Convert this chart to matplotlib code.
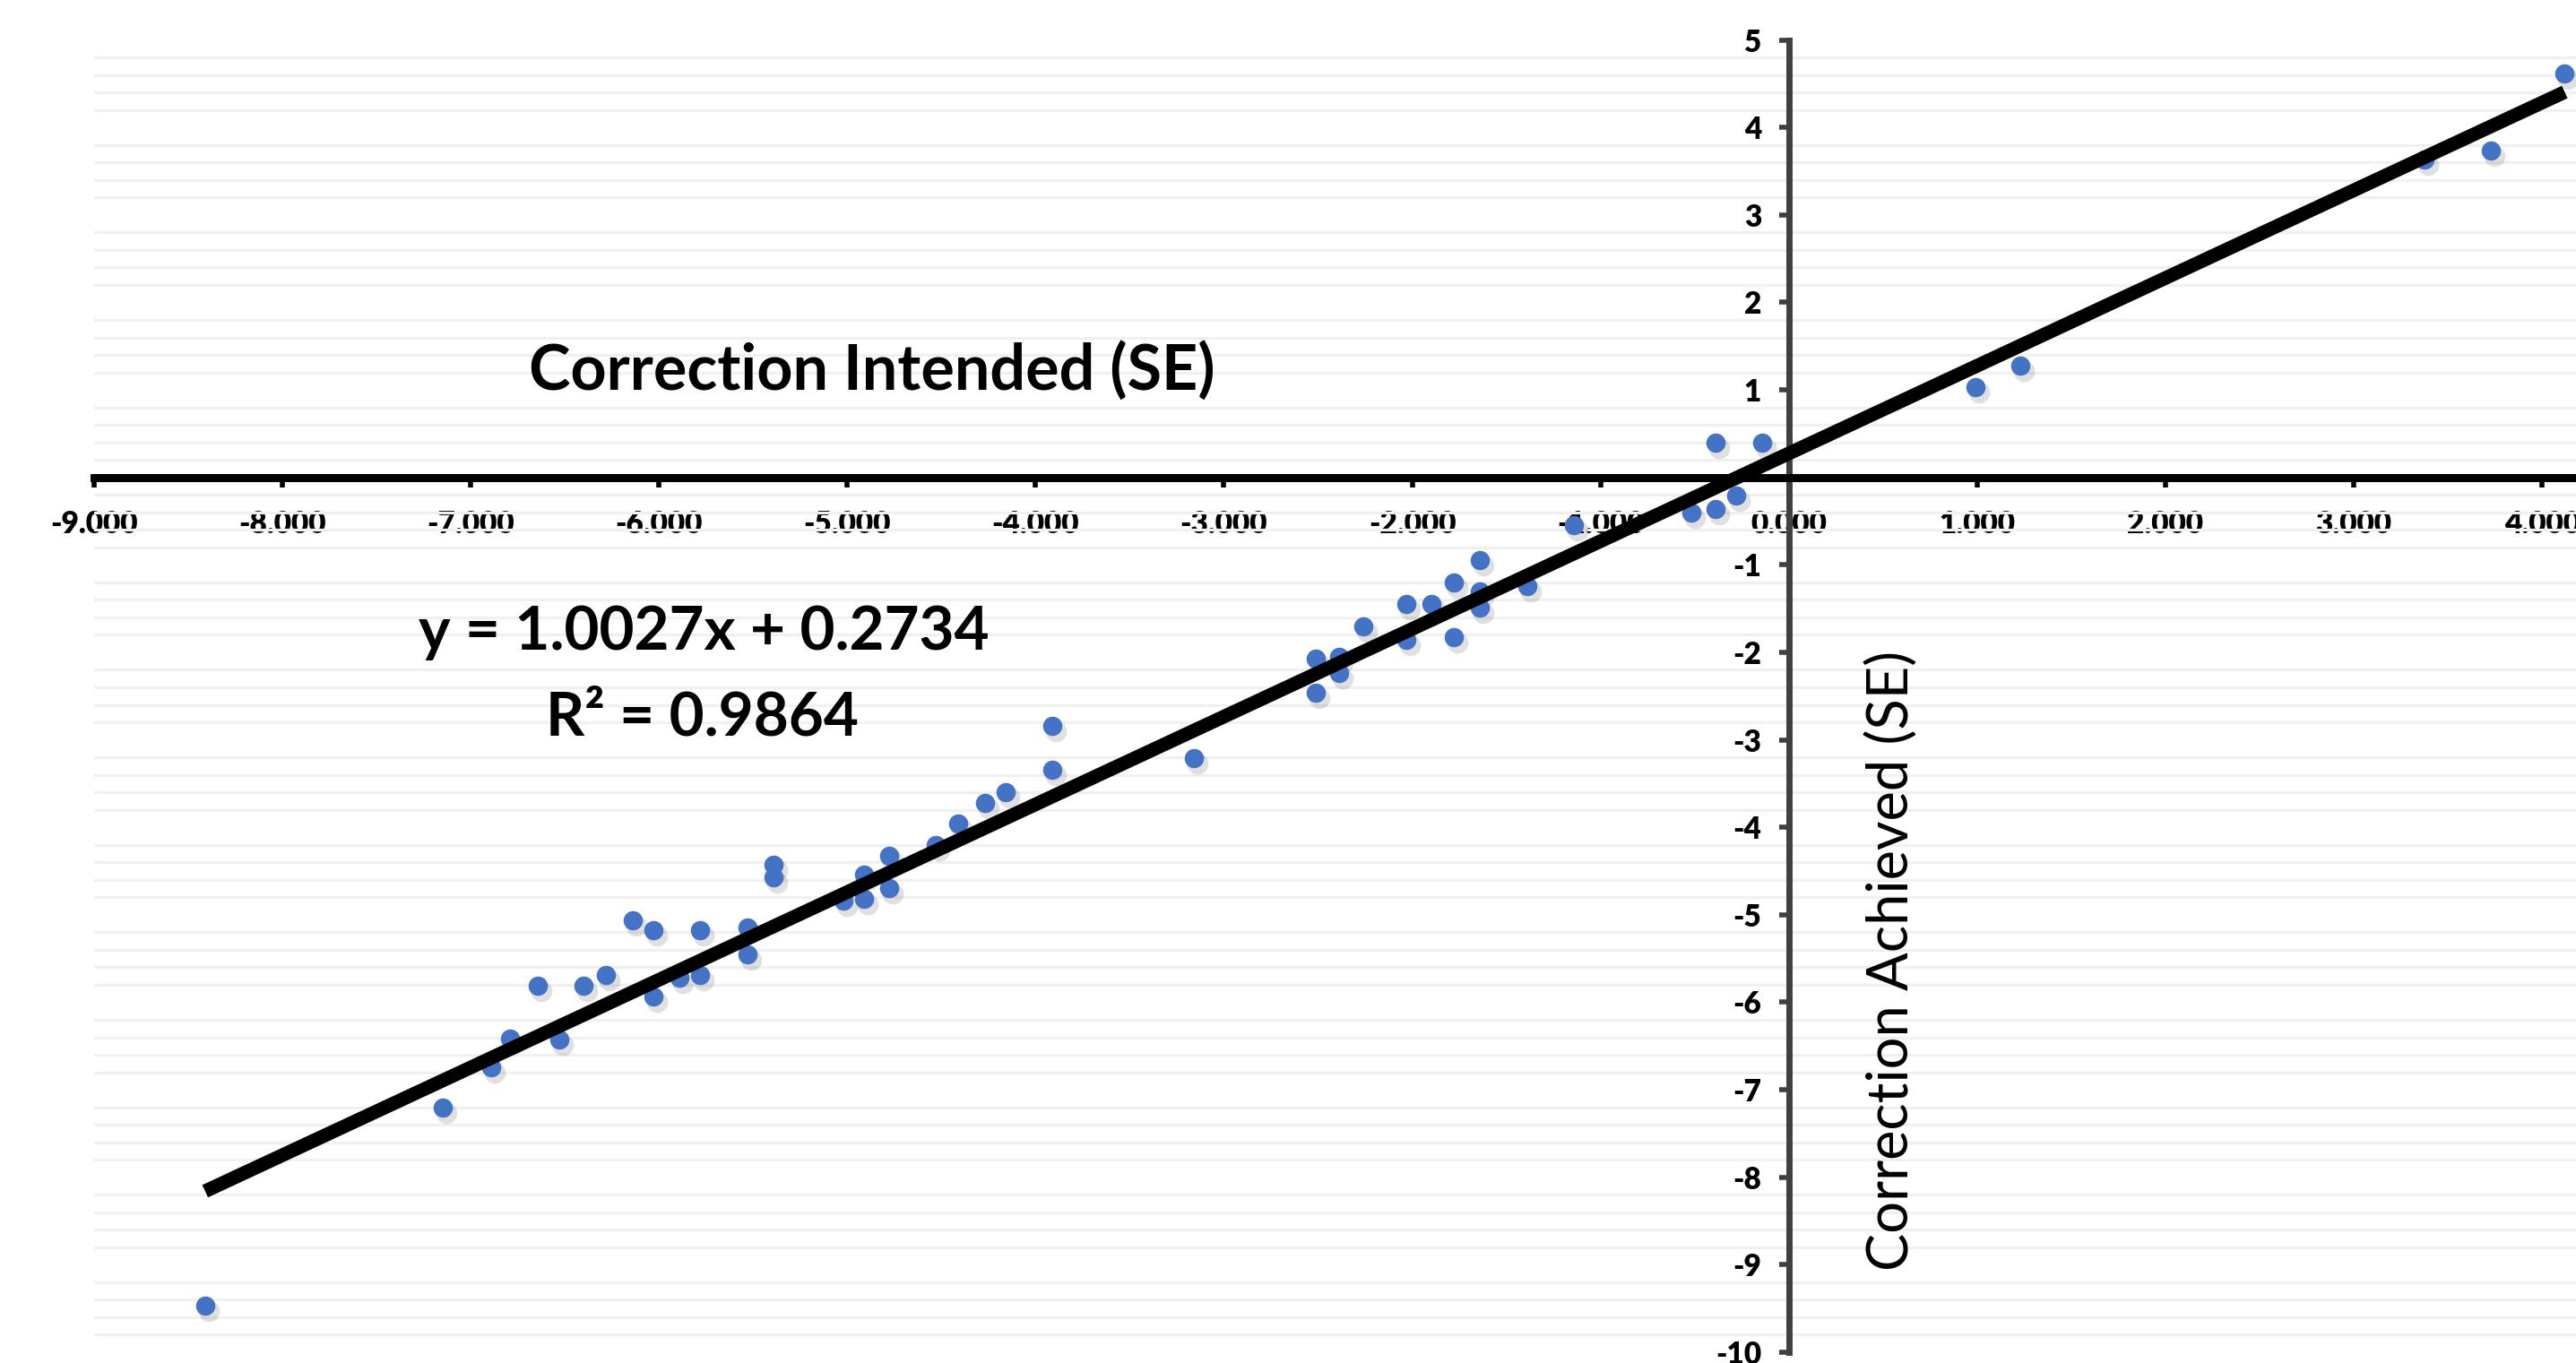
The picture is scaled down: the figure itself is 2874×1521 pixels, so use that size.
import matplotlib
matplotlib.use("Agg")
import matplotlib.pyplot as plt
import matplotlib.transforms as mtransforms
import numpy as np

# values (Correction Intended vs Achieved, SE)
intended = [-8.41, -7.15, -6.89, -6.79, -6.645, -6.53, -6.40, -6.28, -6.14, -6.03,
            -6.03, -5.89, -5.78, -5.78, -5.53, -5.53, -5.39, -5.39, -5.02, -4.91,
            -4.91, -4.78, -4.78, -4.53, -4.41, -4.27, -4.16, -3.91, -3.91, -3.16,
            -2.51, -2.51, -2.39, -2.39, -2.26, -2.03, -2.03, -1.90, -1.78, -1.78,
            -1.64, -1.64, -1.64, -1.39, -1.14, -0.52, -0.39, -0.39, -0.28, -0.14,
            0.99, 1.23, 3.375, 3.73, 4.12]
achieved = [-9.47, -7.20, -6.74, -6.42, -5.81, -6.43, -5.81, -5.69, -5.06, -5.18,
            -5.93, -5.72, -5.18, -5.69, -5.14, -5.45, -4.43, -4.57, -4.84, -4.82,
            -4.54, -4.69, -4.33, -4.20, -3.96, -3.72, -3.60, -3.34, -2.84, -3.21,
            -2.46, -2.07, -2.24, -2.05, -1.70, -1.45, -1.86, -1.45, -1.20, -1.83,
            -0.95, -1.30, -1.49, -1.24, -0.55, -0.40, -0.36, 0.40, -0.21, 0.40,
            1.03, 1.28, 3.63, 3.74, 4.62]

slope = 1.0027
intercept = 0.2734
r2 = 0.9864

x_ticks = [-9, -8, -7, -6, -5, -4, -3, -2, -1, 0, 1, 2, 3, 4]
y_ticks = [-10, -9, -8, -7, -6, -5, -4, -3, -2, -1, 1, 2, 3, 4, 5]

FONT = "Lato"
DOT = "#4472C4"

fig = plt.figure(figsize=(28.74, 15.21), dpi=100)
ax = fig.add_axes([0.0365, 0.0079, 0.9635, 0.9628])
ax.set_xlim(-9, 4.18)
ax.set_ylim(-10, 5)

# light minor grid, every 0.2 between the integer ticks
minor = [v for v in np.round(np.arange(-10, 5.01, 0.2), 1) if abs(v - round(v)) > 1e-6]
ax.set_yticks(minor, minor=True)
ax.grid(which="minor", axis="y", color="#f0f0f0", lw=2.3)
ax.tick_params(axis="y", which="minor", length=0)

# axes crossing at the origin
for s in ["top", "right"]:
    ax.spines[s].set_visible(False)
ax.spines["left"].set_position(("data", 0))
ax.spines["bottom"].set_position(("data", 0))
ax.spines["bottom"].set_color("black")
ax.spines["bottom"].set_linewidth(6.5)
ax.spines["left"].set_color("#404040")
ax.spines["left"].set_linewidth(5.0)
ax.spines["bottom"].set_zorder(2)
ax.spines["left"].set_zorder(2)

ax.set_xticks(x_ticks)
ax.set_xticklabels(["{:.3f}".format(v) for v in x_ticks])
ax.set_yticks(y_ticks)
ax.set_yticklabels([str(v) for v in y_ticks])
ax.tick_params(axis="x", which="major", direction="out", length=8, width=4,
               color="black", pad=18)
ax.tick_params(axis="y", which="major", direction="out", length=8, width=4,
               color="#404040", pad=14)
for lab in ax.get_xticklabels() + ax.get_yticklabels():
    lab.set_fontfamily(FONT)
    lab.set_fontweight("heavy")
    lab.set_fontsize(24)

# points with a soft drop shadow
shadow = mtransforms.offset_copy(ax.transData, fig=fig, x=4, y=-6, units="dots")
ax.scatter(intended, achieved, s=290, color="#000000", alpha=0.12, lw=0,
           transform=shadow, zorder=3, clip_on=False)
ax.scatter(intended, achieved, s=240, color=DOT, lw=0, zorder=4, clip_on=False)

# linear trendline
xs = np.array([min(intended), max(intended)])
ax.plot(xs, slope * xs + intercept, color="black", lw=11, zorder=5,
        solid_capstyle="butt", clip_on=False)

ax.text(-4.87, 1.22, "Correction Intended (SE)", fontsize=50.5, fontweight="bold",
        family=FONT, ha="center", va="center")
ax.text(-5.76, -1.77, "y = {:.4f}x + {:.4f}".format(slope, intercept), fontsize=48.5,
        fontweight="bold", family=FONT, ha="center", va="center")
ax.text(-5.77, -2.75, "R² = {:.4f}".format(r2), fontsize=48.5,
        fontweight="bold", family=FONT, ha="center", va="center")
ax.text(0.55, -5.52, "Correction Achieved (SE)", fontsize=45.5, family=FONT,
        rotation=90, ha="center", va="center")

fig.savefig("out.png", dpi=100, facecolor="white")
